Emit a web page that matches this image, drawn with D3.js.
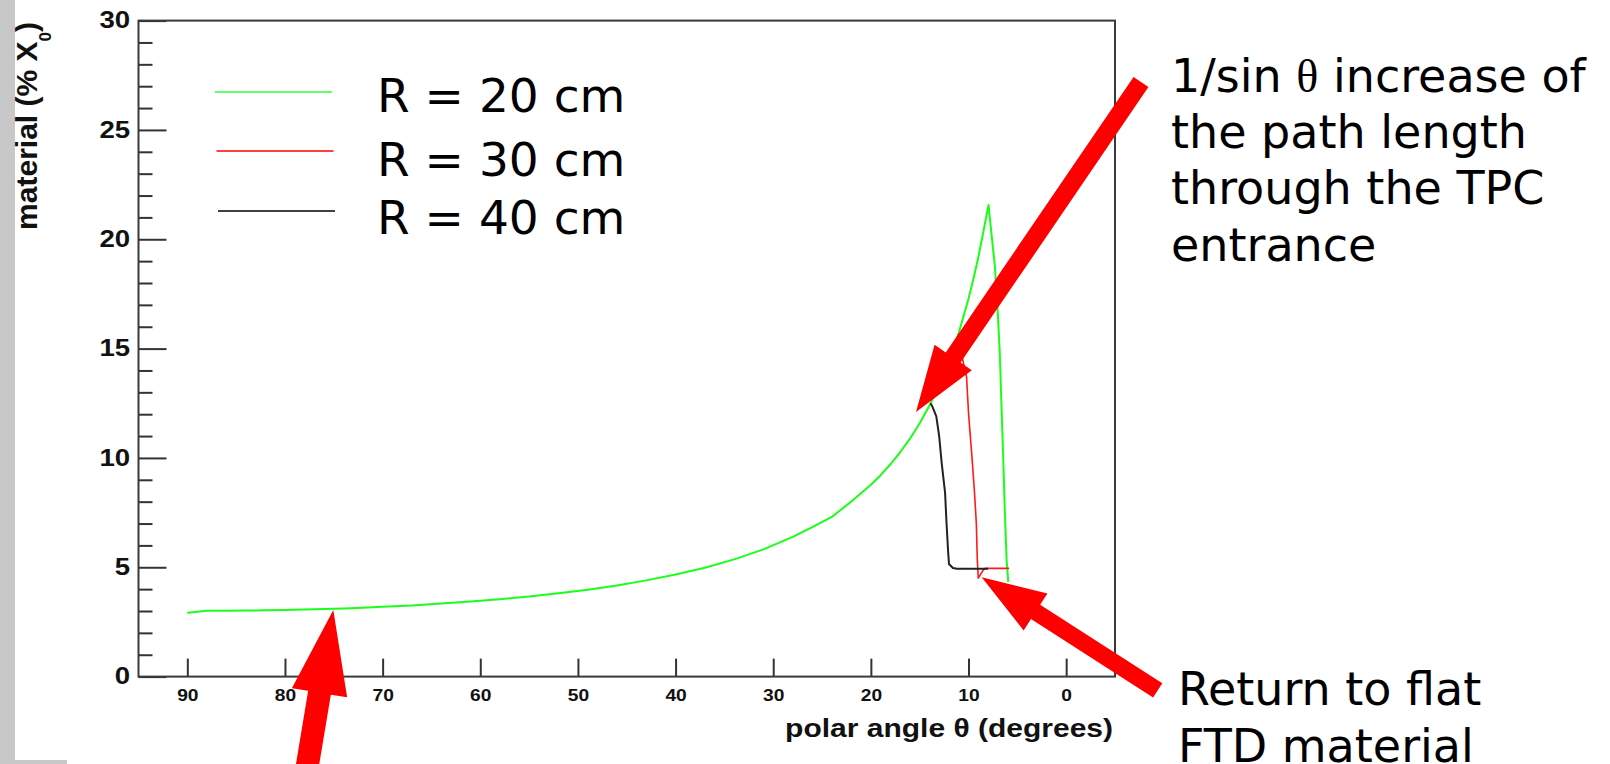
<!DOCTYPE html>
<html>
<head>
<meta charset="utf-8">
<script src="https://cdn.jsdelivr.net/npm/d3@7"></script>
<style>
  body { margin: 0; background: #fff; }
  svg { display: block; }
</style>
</head>
<body>
<div id="chart"></div>
<script>
// material budget vs polar angle
const thetaR20 = [90, 88, 86, 84, 82, 80, 78, 76, 74, 72, 70, 67, 64, 61, 58, 55, 52, 49, 46, 43, 40, 37, 34, 31, 28, 26, 24, 22, 20, 19, 18, 17, 16, 15, 14, 13, 12, 11, 10, 9.5, 9, 8.5, 7.95, 7.8, 7.3, 7.0, 6.8, 6.6, 6.45, 6.3, 6.1, 5.93];
const matR20 = [2.92, 3.01, 3.01, 3.02, 3.03, 3.05, 3.07, 3.09, 3.12, 3.15, 3.19, 3.25, 3.34, 3.43, 3.54, 3.66, 3.81, 3.97, 4.17, 4.40, 4.67, 4.98, 5.36, 5.82, 6.39, 6.84, 7.30, 8.01, 8.77, 9.21, 9.71, 10.26, 10.88, 11.59, 12.40, 13.34, 14.43, 15.72, 17.28, 18.18, 19.17, 20.30, 21.57, 20.9, 18.75, 16.6, 14.8, 12.05, 10.05, 7.8, 5.33, 4.33];

const thetaR30 = [11.0, 10.6, 10.2, 10.0, 9.65, 9.4, 9.2, 9.1, 9.0, 8.5, 8.3, 5.85];
const matR30 = [15.7, 14.5, 13.7, 12.05, 10.05, 8.5, 7.0, 5.33, 4.5, 4.87, 4.95, 4.95];

const thetaR40 = [13.9, 13.7, 13.3, 13.0, 12.75, 12.4, 12.26, 12.1, 12.0, 11.6, 11.2, 8.0];
const matR40 = [12.5, 12.35, 11.9, 10.97, 9.77, 8.4, 7.08, 5.79, 5.15, 4.97, 4.93, 4.93];

const seriesNames = ['R = 20 cm', 'R = 30 cm', 'R = 40 cm'];
const seriesColors = ['#1aff1a', '#ff1a1a', '#222222'];

const xTicks = [90, 80, 70, 60, 50, 40, 30, 20, 10, 0];
const yMajorTicks = [0, 5, 10, 15, 20, 25, 30];
const yMinorTicks = [1, 2, 3, 4, 6, 7, 8, 9, 11, 12, 13, 14, 16, 17, 18, 19, 21, 22, 23, 24, 26, 27, 28, 29];

const noteTop = ['1/sin θ increase of', 'the path length', 'through the TPC', 'entrance'];
const noteBottom = ['Return to flat', 'FTD material'];
// arrow tips in data coords (theta, material)
const arrowTips = [[15.38, 12.1], [8.65, 4.54], [75.05, 3.05]];

const width = 1610;
const height = 764;
const frame = { left: 138.5, right: 1115, top: 20.6, bottom: 676.6 };
const stretch = 1.2; // ROOT labels are drawn wide

const svg = d3.select('#chart')
  .append('svg')
  .attr('width', width)
  .attr('height', height);

// grey page edge
svg.append('rect').attr('x', 0).attr('y', 0).attr('width', 15).attr('height', height).attr('fill', '#c8c8c8');
svg.append('rect').attr('x', 0).attr('y', 760).attr('width', 67).attr('height', 4).attr('fill', '#c8c8c8');

const xScale = d3.scaleLinear().domain([95, -5]).range([frame.left, frame.right]);
const yScale = d3.scaleLinear().domain([0, 30]).range([frame.bottom, frame.top]);

const labelFont = '"Liberation Sans", Arial, sans-serif';

// y axis: major + minor ticks pointing inward
const yAxis = svg.append('g')
  .attr('transform', `translate(${frame.left},0)`)
  .call(d3.axisLeft(yScale).tickValues(yMajorTicks).tickSize(-28).tickPadding(7));
yAxis.select('.domain').remove();
yAxis.selectAll('line').attr('stroke', '#333').attr('stroke-width', 2);
yAxis.selectAll('text')
  .attr('font-family', labelFont)
  .attr('font-weight', 'bold')
  .attr('font-size', 23)
  .attr('fill', '#111')
  .attr('transform', `scale(${stretch},1)`);

const yMinor = svg.append('g')
  .attr('transform', `translate(${frame.left},0)`)
  .call(d3.axisLeft(yScale).tickValues(yMinorTicks).tickSize(-14).tickFormat(''));
yMinor.select('.domain').remove();
yMinor.selectAll('line').attr('stroke', '#333').attr('stroke-width', 2);

// x axis
const xAxis = svg.append('g')
  .attr('transform', `translate(0,${frame.bottom})`)
  .call(d3.axisBottom(xScale).tickValues(xTicks).tickSize(-18).tickPadding(13));
xAxis.select('.domain').remove();
xAxis.selectAll('line').attr('stroke', '#333').attr('stroke-width', 2);
xAxis.selectAll('text')
  .attr('font-family', labelFont)
  .attr('font-weight', 'bold')
  .attr('font-size', 16)
  .attr('fill', '#111')
  .attr('transform', `scale(${stretch},1)`);

// frame
svg.append('rect')
  .attr('x', frame.left)
  .attr('y', frame.top)
  .attr('width', frame.right - frame.left)
  .attr('height', frame.bottom - frame.top)
  .attr('fill', 'none')
  .attr('stroke', '#3a3a3a')
  .attr('stroke-width', 2);

// axis titles
svg.append('text')
  .attr('transform', `translate(1113,737) scale(${stretch},1)`)
  .attr('text-anchor', 'end')
  .attr('font-family', labelFont)
  .attr('font-weight', 'bold')
  .attr('font-size', 25)
  .attr('fill', '#111')
  .text('polar angle θ (degrees)');

const yTitle = svg.append('text')
  .attr('transform', 'translate(37,22) rotate(-90)')
  .attr('text-anchor', 'end')
  .attr('font-family', labelFont)
  .attr('font-weight', 'bold')
  .attr('font-size', 30)
  .attr('fill', '#111');
yTitle.append('tspan').text('material (% X');
yTitle.append('tspan').attr('font-size', 17).attr('dy', 14).text('0');
yTitle.append('tspan').attr('dy', -14).text(')');

// curves
const line = d3.line()
  .x((d) => xScale(d[0]))
  .y((d) => yScale(d[1]));

const series = [
  { name: seriesNames[0], color: seriesColors[0], width: 2, pts: d3.zip(thetaR20, matR20) },
  { name: seriesNames[1], color: seriesColors[1], width: 1.6, pts: d3.zip(thetaR30, matR30) },
  { name: seriesNames[2], color: seriesColors[2], width: 2, pts: d3.zip(thetaR40, matR40) },
];

svg.append('g')
  .selectAll('path')
  .data(series)
  .join('path')
  .attr('d', (d) => line(d.pts))
  .attr('fill', 'none')
  .attr('stroke', (d) => d.color)
  .attr('stroke-width', (d) => d.width)
  .attr('stroke-linejoin', 'round');

// legend
const legend = svg.append('g').attr('class', 'legend');
const legendRows = legend.selectAll('g')
  .data(series)
  .join('g')
  .attr('transform', (d, i) => `translate(0,${[92, 151, 211][i]})`);
legendRows.append('line')
  .attr('x1', (d, i) => 215 + i * 1.5)
  .attr('x2', (d, i) => 332 + i * 1.5)
  .attr('stroke', (d, i) => ['#33ff33', '#ff0000', '#000'][i])
  .attr('stroke-width', 1.5);
legendRows.append('text')
  .attr('x', 377)
  .attr('y', (d, i) => [20, 24.5, 23][i])
  .attr('font-family', '"DejaVu Sans", sans-serif')
  .attr('font-size', 47)
  .attr('fill', '#000')
  .text((d) => d.name);

// notes
const notes = svg.append('g')
  .attr('font-family', '"DejaVu Sans", sans-serif')
  .attr('font-size', 46)
  .attr('fill', '#000');

noteTop.forEach((t, i) => {
  const txt = notes.append('text').attr('x', 1171).attr('y', 91.7 + i * 56.3);
  if (t.includes('θ')) {
    const parts = t.split('θ');
    txt.append('tspan').text(parts[0]);
    txt.append('tspan').attr('font-family', '"Liberation Serif", "DejaVu Serif", serif').text('θ');
    txt.append('tspan').text(parts[1]);
  } else {
    txt.text(t);
  }
});

noteBottom.forEach((t, i) => {
  notes.append('text').attr('x', 1178).attr('y', 705 + i * 56.5).text(t);
});

// red arrows
function arrowPoints(x1, y1, x2, y2, shaft, headW, headL) {
  const dx = x2 - x1, dy = y2 - y1;
  const L = Math.hypot(dx, dy);
  const ux = dx / L, uy = dy / L;
  const px = -uy, py = ux;
  const bx = x2 - ux * headL, by = y2 - uy * headL;
  return [
    [x1 + px * shaft / 2, y1 + py * shaft / 2],
    [bx + px * shaft / 2, by + py * shaft / 2],
    [bx + px * headW / 2, by + py * headW / 2],
    [x2, y2],
    [bx - px * headW / 2, by - py * headW / 2],
    [bx - px * shaft / 2, by - py * shaft / 2],
    [x1 - px * shaft / 2, y1 - py * shaft / 2],
  ];
}

const arrowShapes = [
  { tail: [225, -330], shaft: 18, headW: 45, headL: 66 },
  { tail: [176, 113], shaft: 17, headW: 44, headL: 64 },
  { tail: [-30, 180], shaft: 23, headW: 56, headL: 84 },
];

svg.append('g')
  .selectAll('polygon')
  .data(arrowTips)
  .join('polygon')
  .attr('points', (d, i) => {
    const tx = xScale(d[0]), ty = yScale(d[1]);
    const s = arrowShapes[i];
    return arrowPoints(tx + s.tail[0], ty + s.tail[1], tx, ty, s.shaft, s.headW, s.headL)
      .map((p) => p.join(',')).join(' ');
  })
  .attr('fill', '#ff0000');
</script>
</body>
</html>
